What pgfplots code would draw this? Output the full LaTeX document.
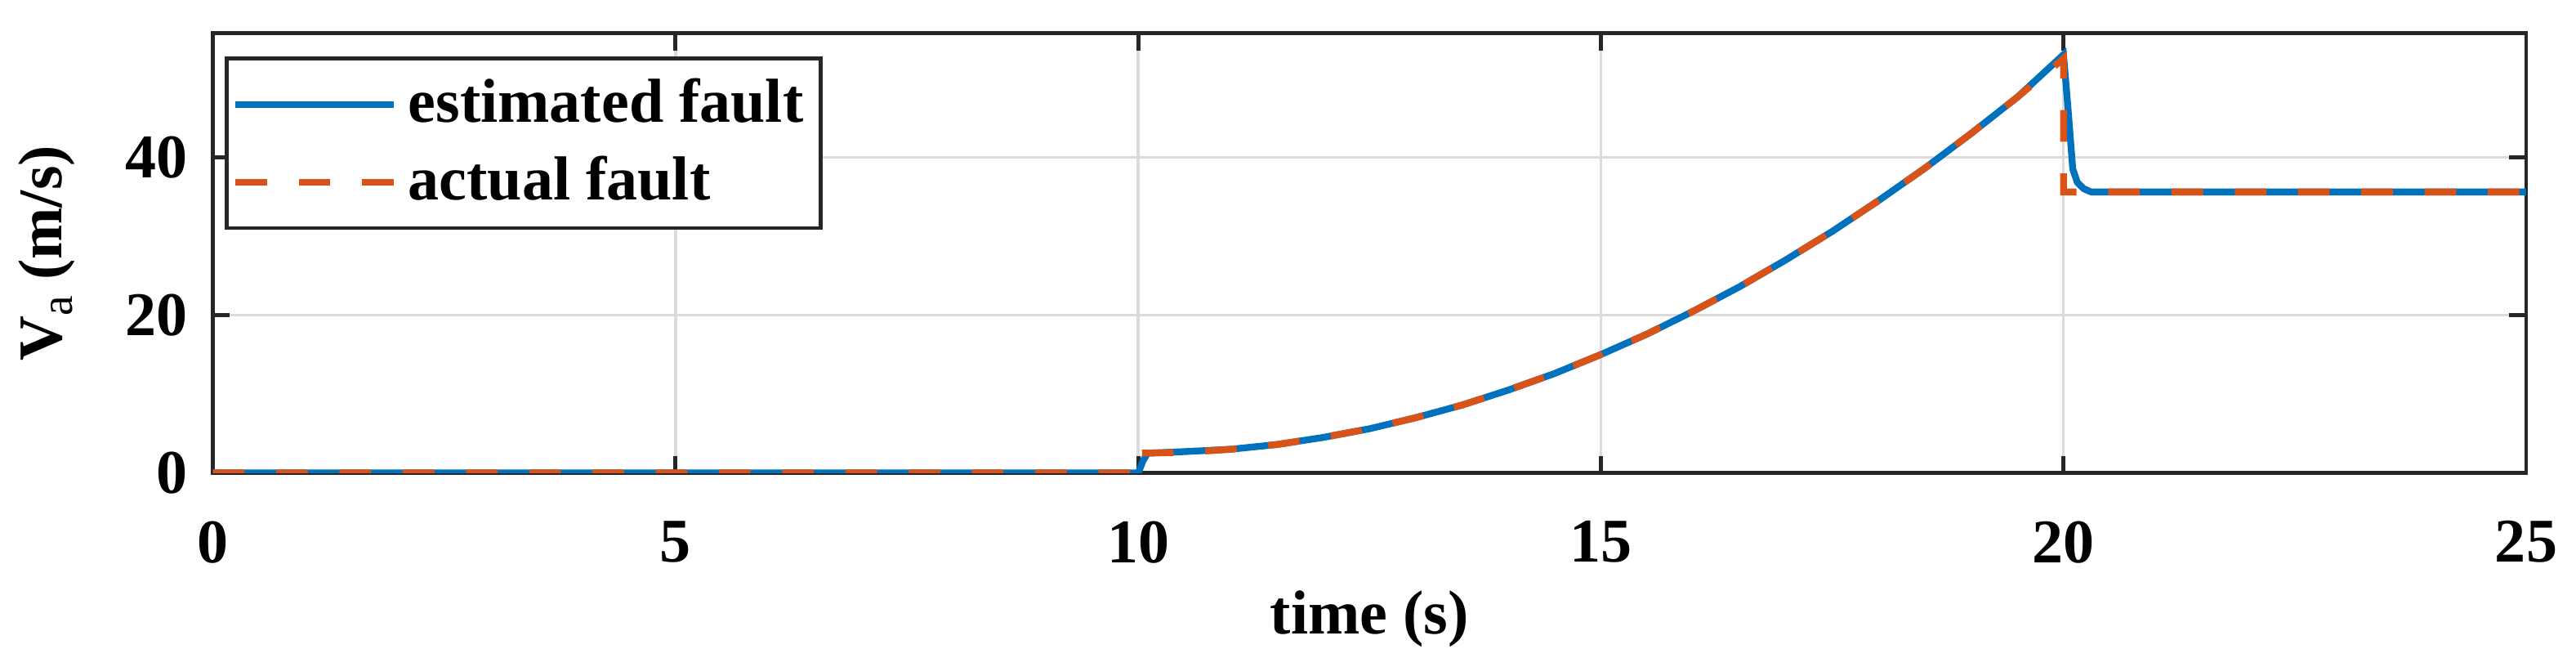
\documentclass[border=0pt]{standalone}
\usepackage{fontspec}
\setmainfont{Liberation Serif}
\usepackage{pgfplots}
\pgfplotsset{compat=1.18}

\definecolor{mblue}{RGB}{0,114,189}
\definecolor{morange}{RGB}{217,83,25}

\begin{document}
\begin{tikzpicture}
\begin{axis}[
    at={(0,0)}, anchor=south west,
    scale only axis,
    width=409.6pt, height=77.8pt,
    xmin=0, xmax=25, ymin=0, ymax=55.7,
    xtick={0,5,...,25}, ytick={0,20,40},
    grid=major,
    major grid style={draw=black!14, line width=0.5pt},
    tick align=inside,
    major tick length=3pt,
    axis line style={line width=0.7pt, black!85},
    every tick/.style={black!85, line width=0.7pt},
    /pgf/number format/assume math mode=true,
    tick label style={font=\fontsize{11}{13}\selectfont\bfseries},
    xticklabel style={yshift=-5pt},
    yticklabel style={xshift=-1pt},
    label style={font=\fontsize{11}{13}\selectfont\bfseries},
    xlabel={time (s)},
    ylabel={V\raisebox{-0.35ex}{\fontsize{8}{9}\selectfont\mdseries a} (m/s)},
    xlabel style={yshift=2pt},
    ylabel style={yshift=2pt},
    legend style={at={(0.005,0.947)}, anchor=north west,
        draw=black!85, line width=0.7pt,
        font=\fontsize{11}{13}\selectfont\bfseries,
        inner xsep=1pt, inner ysep=1.5pt, row sep=0.5pt},
    legend cell align=left,
    legend image code/.code={\draw[#1] (0pt,0pt) -- (28pt,0pt);},
]
\addplot[mblue, line width=1.2pt] coordinates {
    (0,0) (10,0) (10.05,1.5) (10.1,2.5)
    (10.5,2.7) (11,3.0) (11.5,3.6) (12,4.5) (12.5,5.6) (13,7.0)
    (13.5,8.6) (14,10.5) (14.5,12.6) (15,15.0) (15.5,17.6) (16,20.5)
    (16.5,23.6) (17,27.0) (17.5,30.6) (18,34.5) (18.5,38.6) (19,43.0)
    (19.5,47.6) (20,53.0) (20.05,46) (20.1,38.5) (20.15,36.8)
    (20.22,36.0) (20.3,35.6) (25,35.6)
};
\addlegendentry{estimated fault}
\addplot[morange, line width=1.2pt, dash pattern=on 5.6pt off 5.6pt] coordinates {
    (0,0) (10,0) (10,2.5)
    (10.5,2.6) (11,3.0) (11.5,3.6) (12,4.5) (12.5,5.6) (13,7.0)
    (13.5,8.6) (14,10.5) (14.5,12.6) (15,15.0) (15.5,17.6) (16,20.5)
    (16.5,23.6) (17,27.0) (17.5,30.6) (18,34.5) (18.5,38.6) (19,43.0)
    (19.5,47.6) (20,52.5) (20,35.6) (25,35.6)
};
\addlegendentry{actual fault}
\end{axis}
\path (-36.9pt,-34.3pt) rectangle (417.1pt,83.7pt);
\end{tikzpicture}
\end{document}
